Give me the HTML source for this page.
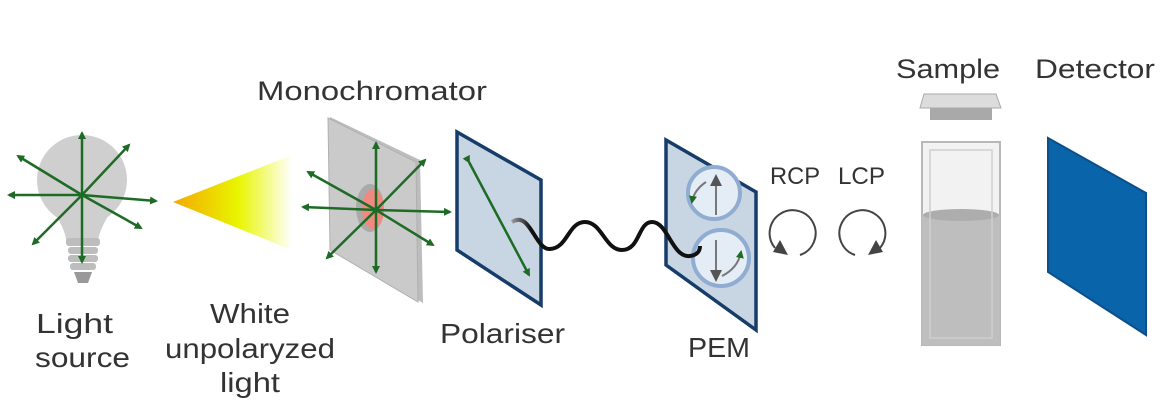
<!DOCTYPE html>
<html><head><meta charset="utf-8"><style>
body{margin:0;background:#fff;}
svg text{font-family:"Liberation Sans",sans-serif;fill:#333;}
</style></head><body>
<svg width="1170" height="408" viewBox="0 0 1170 408" xmlns="http://www.w3.org/2000/svg">
<defs>
<marker id="ga" markerWidth="8" markerHeight="8" refX="6" refY="4" orient="auto" markerUnits="userSpaceOnUse"><path d="M0,0 L8,4 L0,8 Z" fill="#1d6b25"/></marker>
<marker id="gr" markerWidth="12" markerHeight="12" refX="6" refY="6" orient="auto" markerUnits="userSpaceOnUse"><path d="M0,0 L12,6 L0,12 Z" fill="#555"/></marker>
<linearGradient id="cone" x1="0" x2="1"><stop offset="0" stop-color="#f5a800"/><stop offset="0.55" stop-color="#e8f500"/><stop offset="1" stop-color="#fff"/></linearGradient>
<linearGradient id="wv" x1="0" x2="1"><stop offset="0" stop-color="#999"/><stop offset="0.1" stop-color="#111"/><stop offset="1" stop-color="#111"/></linearGradient>
</defs>
<!-- bulb -->
<circle cx="82" cy="180" r="45" fill="#cfcfcf"/>
<path d="M52,210 Q65,228 66,240 L98,240 Q100,228 112,210 Z" fill="#cfcfcf"/>
<rect x="66" y="238" width="34" height="8" rx="3" fill="#bdbdbd"/>
<rect x="68" y="247" width="30" height="7" rx="3" fill="#bdbdbd"/>
<rect x="68" y="255" width="30" height="7" rx="3" fill="#bdbdbd"/>
<rect x="70" y="263" width="26" height="7" rx="3" fill="#bdbdbd"/>
<path d="M74,272 L92,272 L88,283 L78,283 Z" fill="#999"/>
<g stroke="#1d6b25" stroke-width="2.5" marker-end="url(#ga)">
<line x1="82" y1="195" x2="82" y2="133"/><line x1="82" y1="195" x2="82" y2="262"/>
<line x1="82" y1="195" x2="9" y2="195"/><line x1="82" y1="195" x2="156" y2="201"/>
<line x1="82" y1="195" x2="129" y2="145"/><line x1="82" y1="195" x2="33" y2="244"/>
<line x1="82" y1="195" x2="18" y2="156"/><line x1="82" y1="195" x2="141" y2="228"/>
</g>
<!-- cone -->
<path d="M173,202 L292,155 L292,250 Z" fill="url(#cone)"/>
<!-- monochromator -->
<path d="M330,117 L420,160 L423,303 L333,250 Z" fill="#bdbdbd"/>
<path d="M328,118 L416,162 L418,302 L330,250 Z" fill="#cacaca" stroke="#b0b0b0"/>
<ellipse cx="370" cy="208" rx="14" ry="24" fill="#aaa"/>
<ellipse cx="373" cy="209" rx="11" ry="20" fill="#f08a80"/>
<g stroke="#1d6b25" stroke-width="2.5" marker-end="url(#ga)">
<line x1="376" y1="210" x2="376" y2="143"/><line x1="376" y1="210" x2="376" y2="272"/>
<line x1="376" y1="210" x2="303" y2="207"/><line x1="376" y1="210" x2="450" y2="212"/>
<line x1="376" y1="210" x2="425" y2="160"/><line x1="376" y1="210" x2="327" y2="258"/>
<line x1="376" y1="210" x2="433" y2="245"/><line x1="376" y1="210" x2="308" y2="172"/>
</g>
<!-- polariser -->
<path d="M457,132 L541,180 L541,305 L457,250 Z" fill="#c8d5e2" stroke="#163c6a" stroke-width="3.5"/>
<line x1="469" y1="162" x2="529" y2="275" stroke="#1d6b25" stroke-width="2.5" marker-end="url(#ga)" marker-start="url(#ga)"/>
<!-- PEM -->
<path d="M666,140 L756,192 L756,330 L666,265 Z" fill="#c8d5e2" stroke="#163c6a" stroke-width="3.5"/>
<circle cx="714" cy="193" r="26" fill="#e4edf6" stroke="#90acd0" stroke-width="4"/>
<circle cx="721" cy="258" r="28" fill="#e4edf6" stroke="#90acd0" stroke-width="4"/>
<line x1="716" y1="215" x2="716" y2="180" stroke="#777" stroke-width="2" marker-end="url(#gr)"/>
<path d="M706,182 Q694,190 692,202" stroke="#777" stroke-width="2" fill="none" marker-end="url(#ga)"/>
<line x1="716" y1="240" x2="716" y2="276" stroke="#777" stroke-width="2" marker-end="url(#gr)"/>
<path d="M722,276 Q738,268 741,252" stroke="#777" stroke-width="2" fill="none" marker-end="url(#ga)"/>
<!-- wave -->
<path d="M512,222 C530,210 535,250 550,249 C568,248 568,222 585,222 C602,222 605,250 622,250 C640,250 638,222 652,222 C668,222 672,258 690,256 C698,255 700,250 700,246" stroke="url(#wv)" stroke-width="4" fill="none"/>
<!-- RCP/LCP -->
<text x="770" y="184" font-size="24" textLength="50" lengthAdjust="spacingAndGlyphs">RCP</text>
<text x="838" y="184" font-size="24" textLength="47" lengthAdjust="spacingAndGlyphs">LCP</text>
<path d="M775,248 A23,23 0 1 1 800,255" stroke="#444" stroke-width="2" fill="none"/>
<path d="M788,255 L773,252 L780,240 Z" fill="#444"/>
<path d="M880,248 A23,23 0 1 0 855,255" stroke="#444" stroke-width="2" fill="none"/>
<path d="M868,255 L883,252 L876,240 Z" fill="#444"/>
<!-- sample -->
<path d="M924,94 L996,94 L1001,108 L920,108 Z" fill="#dcdcdc" stroke="#aaa"/>
<rect x="930" y="108" width="62" height="12" fill="#a9a9a9"/>
<rect x="922" y="142" width="78" height="203" fill="#f2f2f2" stroke="#b8b8b8" stroke-width="2"/>
<rect x="922" y="215" width="78" height="130" fill="#bebebe"/>
<ellipse cx="961" cy="215" rx="38" ry="6" fill="#adadad"/>
<rect x="930" y="150" width="62" height="188" fill="none" stroke="#cfcfcf" stroke-width="1.5"/>
<!-- detector -->
<path d="M1048,138 L1146,193 L1146,335 L1048,272 Z" fill="#0a64a9" stroke="#0a4f8a" stroke-width="2"/>
<!-- labels -->
<text x="257" y="100" font-size="27" textLength="230" lengthAdjust="spacingAndGlyphs">Monochromator</text>
<text x="896" y="78" font-size="27" textLength="104" lengthAdjust="spacingAndGlyphs">Sample</text>
<text x="1035" y="78" font-size="27" textLength="120" lengthAdjust="spacingAndGlyphs">Detector</text>
<text x="36" y="333" font-size="28" textLength="77" lengthAdjust="spacingAndGlyphs">Light</text>
<text x="35" y="367" font-size="28" textLength="95" lengthAdjust="spacingAndGlyphs">source</text>
<text x="210" y="323" font-size="28" textLength="80" lengthAdjust="spacingAndGlyphs">White</text>
<text x="165" y="358" font-size="28" textLength="170" lengthAdjust="spacingAndGlyphs">unpolaryzed</text>
<text x="220" y="392" font-size="28" textLength="60" lengthAdjust="spacingAndGlyphs">light</text>
<text x="440" y="343" font-size="28" textLength="125" lengthAdjust="spacingAndGlyphs">Polariser</text>
<text x="688" y="357" font-size="28" textLength="62" lengthAdjust="spacingAndGlyphs">PEM</text>
</svg>
</body></html>
